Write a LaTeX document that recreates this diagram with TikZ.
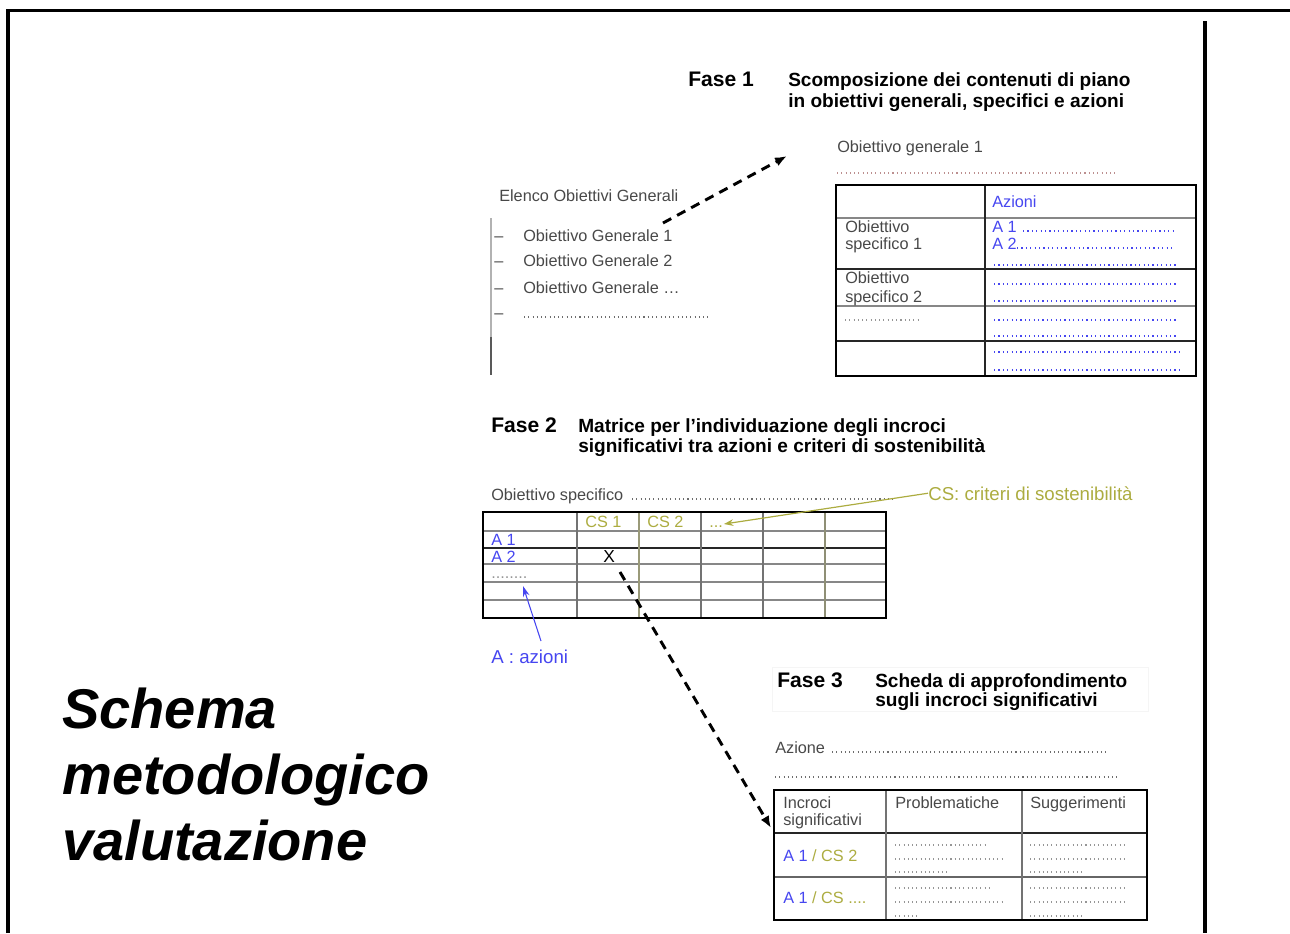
\documentclass[tikz,border=0pt]{standalone}
\usepackage{fontspec}
\setmainfont{Liberation Sans}
\usetikzlibrary{arrows.meta}
\definecolor{tgray}{RGB}{72,72,72}
\definecolor{ablue}{RGB}{70,70,240}
\definecolor{csolive}{RGB}{172,172,64}
\definecolor{dgray}{RGB}{150,150,150}
\definecolor{lgray}{RGB}{135,135,135}
\begin{document}
\begin{tikzpicture}[x=0.75pt,y=-0.75pt,
  txt/.style={inner sep=0pt, anchor=base west, text=tgray, font=\fontsize{12.2pt}{14pt}\selectfont},
  lbl/.style={inner sep=0pt, anchor=base west, font=\fontsize{14pt}{16pt}\selectfont},
  hdr/.style={inner sep=0pt, anchor=base west, text=black, font=\fontsize{14.3pt}{17pt}\selectfont\bfseries},
  fase/.style={inner sep=0pt, anchor=base west, text=black, font=\fontsize{15.8pt}{18pt}\selectfont\bfseries},
  ttl/.style={inner sep=0pt, anchor=base west, text=black, font=\fontsize{42pt}{50pt}\selectfont\bfseries\itshape},
  bdots/.style={draw=ablue, line width=0.9pt, dash pattern=on 0.9pt off 2.4pt},
  gdots/.style={draw=dgray, line width=0.8pt, dash pattern=on 0.8pt off 2.4pt},
  frame/.style={line width=2.3pt, black},
  thickbox/.style={line width=2.2pt, black},
  midline/.style={line width=1.6pt, black!85},
  thinline/.style={line width=1.1pt, lgray},
  dasharrow/.style={line width=2.2pt, black, dash pattern=on 7pt off 5pt, -{Latex[length=9pt,width=7pt]}}
]
\useasboundingbox (0,0) rectangle (1290,933);
% frame
\draw[frame] (8,933) -- (8,10.5) -- (1290,10.5);
\draw[frame] (1205,21) -- (1205,933);

% title
\node[ttl] (t1) at (62,728) {Schema};
\node[ttl] (t2) at (62,794) {metodologico};
\node[ttl] (t3) at (62,860) {valutazione};

% ---------- Fase 1 ----------
\node[fase] (f1) at (688,86) {Fase 1};
\node[hdr] (f1a) at (788,86) {Scomposizione dei contenuti di piano};
\node[hdr] (f1b) at (788,107) {in obiettivi generali, specifici e azioni};

\node[txt] (elenco) at (499,201) {Elenco Obiettivi Generali};
\draw[line width=1.3pt, black!30] (491,218) -- (491,337);
\draw[line width=1.3pt, black!65] (491,337) -- (491,375);
\node[txt] (d1) at (494,241) {–};
\node[txt] (og1) at (523,241) {Obiettivo Generale 1};
\node[txt] (d2) at (494,266) {–};
\node[txt] (og2) at (523,266) {Obiettivo Generale 2};
\node[txt] (d3) at (494,293) {–};
\node[txt] (og3) at (523,293) {Obiettivo Generale …};
\node[txt] (d4) at (494,318) {–};
\draw[gdots, draw=tgray!80] (524,317) -- (708,317);

\coordinate (a1s) at (663,223);
\coordinate (a1e) at (787,156);
\draw[dasharrow] (a1s) -- (a1e);

\node[txt] (og) at (837,152) {Obiettivo generale 1};
\draw[gdots, draw=red!25!gray!70] (837,173) -- (1118,173);

\draw[thinline] (836,218) -- (1196,218);
\draw[thinline] (836,306) -- (1196,306);
\draw[midline] (836,269) -- (1196,269);
\draw[midline] (836,341) -- (1196,341);
\draw[midline] (985,185) -- (985,376);
\draw[thickbox] (836,185) rectangle (1196,376);

\node[txt, text=ablue] (az) at (992,207) {Azioni};
\node[txt] (os1a) at (845,232) {Obiettivo};
\node[txt] (os1b) at (845,249) {specifico 1};
\node[txt, text=ablue] (a1) at (992,232) {A 1};
\draw[bdots] (1023,231) -- (1173,231);
\node[txt, text=ablue] (a2) at (992,249) {A 2};
\draw[bdots] (1017,248) -- (1173,248);
\draw[bdots] (994,265) -- (1178,265);
\node[txt] (os2a) at (845,283) {Obiettivo};
\node[txt] (os2b) at (845,302) {specifico 2};
\draw[bdots] (994,284) -- (1178,284);
\draw[bdots] (994,301) -- (1178,301);
\draw[gdots] (845,320) -- (918,320);
\draw[bdots] (994,320) -- (1178,320);
\draw[bdots] (994,336) -- (1178,336);
\draw[bdots] (994,352) -- (1180,352);
\draw[bdots] (994,370) -- (1180,370);

% ---------- Fase 2 ----------
\node[fase] (f2) at (491,432) {Fase 2};
\node[hdr] (f2a) at (578,432) {Matrice per l’individuazione degli incroci};
\node[hdr] (f2b) at (578,452) {significativi tra azioni e criteri di sostenibilità};

\node[txt] (osp) at (491,500) {Obiettivo specifico};
\draw[gdots, draw=tgray!80] (632,499) -- (893,499);

\draw[thinline] (483,531) -- (886,531);
\draw[thinline] (483,564) -- (886,564);
\draw[thinline] (483,582) -- (886,582);
\draw[thinline] (483,600) -- (886,600);
\draw[midline] (483,548) -- (886,548);
\draw[line width=1.4pt, black!55] (577,512) -- (577,618);
\draw[line width=1.4pt, csolive!50!black!60] (639,512) -- (639,618);
\draw[line width=1.4pt, black!55] (701,512) -- (701,618);
\draw[line width=1.4pt, black!55] (763,512) -- (763,618);
\draw[line width=1.4pt, csolive!40!black!60] (825,512) -- (825,618);
\draw[thickbox] (483,512) rectangle (886,618);

\node[txt, text=csolive] (cs1) at (585,527) {CS 1};
\node[txt, text=csolive] (cs2) at (647,527) {CS 2};
\node[txt, text=csolive] (csd) at (709,527) {...};
\node[txt, text=ablue] (ma1) at (491,545) {A 1};
\node[txt, text=ablue] (ma2) at (491,562) {A 2};
\node[txt, text=black, font=\fontsize{13pt}{14pt}\selectfont] (x) at (603,562) {X};
\node[txt, text=dgray] (mdots) at (491,578) {........};

\node[lbl, text=csolive] (cslbl) at (928,500) {CS: criteri di sostenibilità};
\coordinate (csend) at (724,524);
\draw[csolive, line width=0.9pt, -{Stealth[length=7pt,width=5pt]}] (cslbl.west) -- (csend);

\node[lbl, text=ablue] (albl) at (491,663) {A : azioni};
\coordinate (aend) at (523,586);
\draw[ablue, line width=0.8pt, -{Stealth[length=8pt,width=5pt]}] (541,641) -- (aend);

\coordinate (a2s) at (620,572);
\coordinate (a2e) at (771,828);
\draw[dasharrow] (a2s) -- (a2e);

% ---------- Fase 3 ----------
\draw[line width=0.6pt, black!4] (772,667) rectangle (1148,711);
\node[fase] (f3) at (777,687) {Fase 3};
\node[hdr] (f3a) at (875,687) {Scheda di approfondimento};
\node[hdr] (f3b) at (875,706) {sugli incroci significativi};

\node[txt] (azione) at (775,753) {Azione};
\draw[gdots, draw=tgray!80] (832,752) -- (1108,752);
\draw[gdots, draw=tgray!80] (775,777) -- (1120,777);

\draw[midline, line width=1.9pt] (774,833) -- (1147,833);
\draw[line width=1.3pt, black!60] (774,877) -- (1147,877);
\draw[line width=1.3pt, black!55] (886,790) -- (886,920);
\draw[line width=1.3pt, black!55] (1022,790) -- (1022,920);
\draw[thickbox] (774,790) rectangle (1147,920);

\node[txt] (inc1) at (783,808) {Incroci};
\node[txt] (inc2) at (783,825) {significativi};
\node[txt] (prob) at (895,808) {Problematiche};
\node[txt] (sugg) at (1030,808) {Suggerimenti};
\node[txt] (r1) at (783,861) {\textcolor{ablue}{A 1}\ \textcolor{csolive}{/ CS 2}};
\node[txt] (r2) at (783,903) {\textcolor{ablue}{A 1}\ \textcolor{csolive}{/ CS ....}};

\draw[gdots] (895,845) -- (988,845);
\draw[gdots] (895,859) -- (1003,859);
\draw[gdots] (895,872) -- (947,872);
\draw[gdots] (1030,845) -- (1125,845);
\draw[gdots] (1030,859) -- (1124,859);
\draw[gdots] (1030,872) -- (1082,872);
\draw[gdots] (895,888) -- (990,888);
\draw[gdots] (895,902) -- (1003,902);
\draw[gdots] (895,916) -- (919,916);
\draw[gdots] (1030,888) -- (1126,888);
\draw[gdots] (1030,902) -- (1124,902);
\draw[gdots] (1030,916) -- (1082,916);
\end{tikzpicture}
\end{document}
